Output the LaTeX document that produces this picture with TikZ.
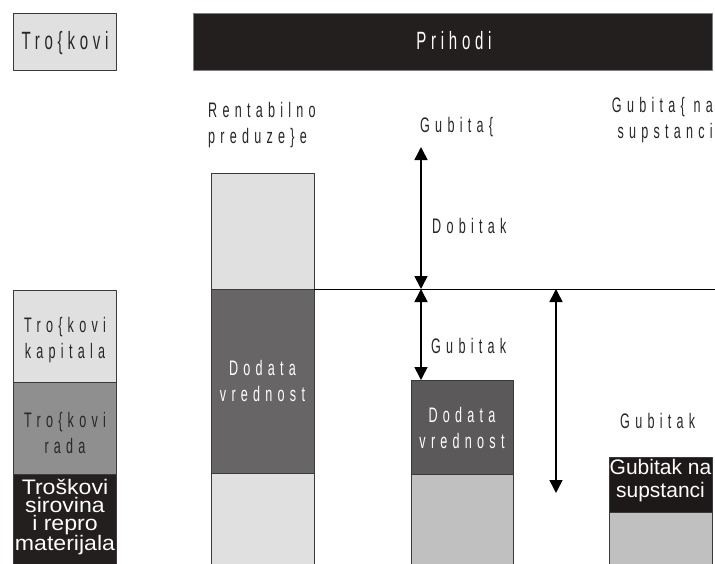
\documentclass[tikz,border=0pt]{standalone}
\usepackage{fontspec}
\setmainfont{Liberation Sans}
\newfontfamily\narrowfont[FakeStretch=0.6,LetterSpace=25]{Liberation Sans}
\newfontfamily\widefont[FakeStretch=1.1]{Liberation Sans}
\usetikzlibrary{arrows.meta}

\definecolor{lightbar}{HTML}{E0E0E0}
\definecolor{midbar}{HTML}{C0C0C0}
\definecolor{labourbar}{HTML}{8F8F8F}
\definecolor{valuebar}{HTML}{676565}
\definecolor{darkbar}{HTML}{231F1E}
\definecolor{edgegray}{HTML}{3A3A3A}

\tikzset{
  bar/.style={draw=edgegray, line width=0.8pt},
  spaced/.style={font=\narrowfont\fontsize{21}{26}\selectfont, text=black!85, inner sep=0pt},
  header/.style={font=\narrowfont\addfontfeature{LetterSpace=19}\fontsize{25}{30}\selectfont, inner sep=0pt},
  plain/.style={font=\fontsize{21}{23}\selectfont, text=white, inner sep=0pt, align=center},
  span/.style={{Triangle[width=13pt,length=13pt]}-{Triangle[width=13pt,length=13pt]}, line width=1.6pt},
}

\begin{document}
\begin{tikzpicture}[x=1pt,y=-1pt,line join=round]
  % Keep the frame of the original artwork.
  \useasboundingbox (0,0) rectangle (715,563);

  % Header: legend box and income bar.
  \draw[bar, fill=lightbar] (13,13) rectangle (116,70);
  \node[header, text=black!85] (legend) at (65,43.5) {Tro\{kovi};
  \draw[bar, draw=gray, fill=darkbar] (193,13) rectangle (712,70);
  \node[header, text=white] (income) at (454,41) {Prihodi};

  % Cost structure on the left.
  \draw[bar, fill=lightbar] (13,290) rectangle (116,382);
  \draw[bar, fill=labourbar] (13,382) rectangle (116,474);
  \draw[bar, fill=darkbar] (13,474) rectangle (116,564);
  \node[spaced, align=center] (capital) at (65,340.5) {Tro\{kovi\\kapitala};
  \node[spaced, align=center] (labour) at (65,433) {Tro\{kovi\\rada};
  \node[plain, font=\widefont\fontsize{21}{18}\selectfont] (material) at (65,517) {Troškovi\\sirovina\\i repro\\materijala};

  % Profitable firm.
  \draw[bar, fill=lightbar] (211,173) rectangle (314,289);
  \draw[bar, fill=valuebar] (211,289) rectangle (314,473);
  \draw[bar, fill=lightbar] (211,473) rectangle (314,564);
  \node[spaced, align=left, anchor=west] (profitable) at (208,125.5) {Rentabilno\\preduze\}e};
  \node[spaced, align=center, text=white] (value1) at (262.5,380.5) {Dodata\\vrednost};

  % Loss-making firm.
  \draw[bar, fill=valuebar!88!black] (411,380) rectangle (513,474);
  \draw[bar, fill=midbar] (411,474) rectangle (513,564);
  \node[spaced, anchor=west] (lossmaker) at (420,127.5) {Gubita\{};
  \node[spaced, align=center, text=white] (value2) at (462,427.5) {Dodata\\vrednost};

  % Firm losing its substance.
  \draw[bar, fill=darkbar!80!black] (609,457) rectangle (712,512);
  \draw[bar, fill=midbar] (609,512) rectangle (712,564);
  \node[spaced, align=right, anchor=east] (substance) at (713,120.5) {Gubita\{ na\\supstanci};
  \node[plain] (subloss) at (660.5,481) {Gubitak na\\supstanci};

  % Income level.
  \coordinate (lvlA) at (314,289);
  \coordinate (lvlB) at (715,289);
  \draw[line width=0.8pt] (lvlA) -- (lvlB);

  % Span arrows.
  \coordinate (gainTop) at (421,147);
  \coordinate (gainBot) at (421,289);
  \coordinate (lossBot) at (421,380);
  \coordinate (subTop) at (556,289);
  \coordinate (subBot) at (556,493);
  \draw[span] (gainTop) -- (gainBot);
  \draw[span] (gainBot) -- (lossBot);
  \draw[span] (subTop) -- (subBot);
  \node[spaced, anchor=west] (gain) at (432,226) {Dobitak};
  \node[spaced, anchor=west] (loss) at (431,346) {Gubitak};
  \node[spaced, anchor=west] (loss2) at (620,421) {Gubitak};
\end{tikzpicture}
\end{document}
